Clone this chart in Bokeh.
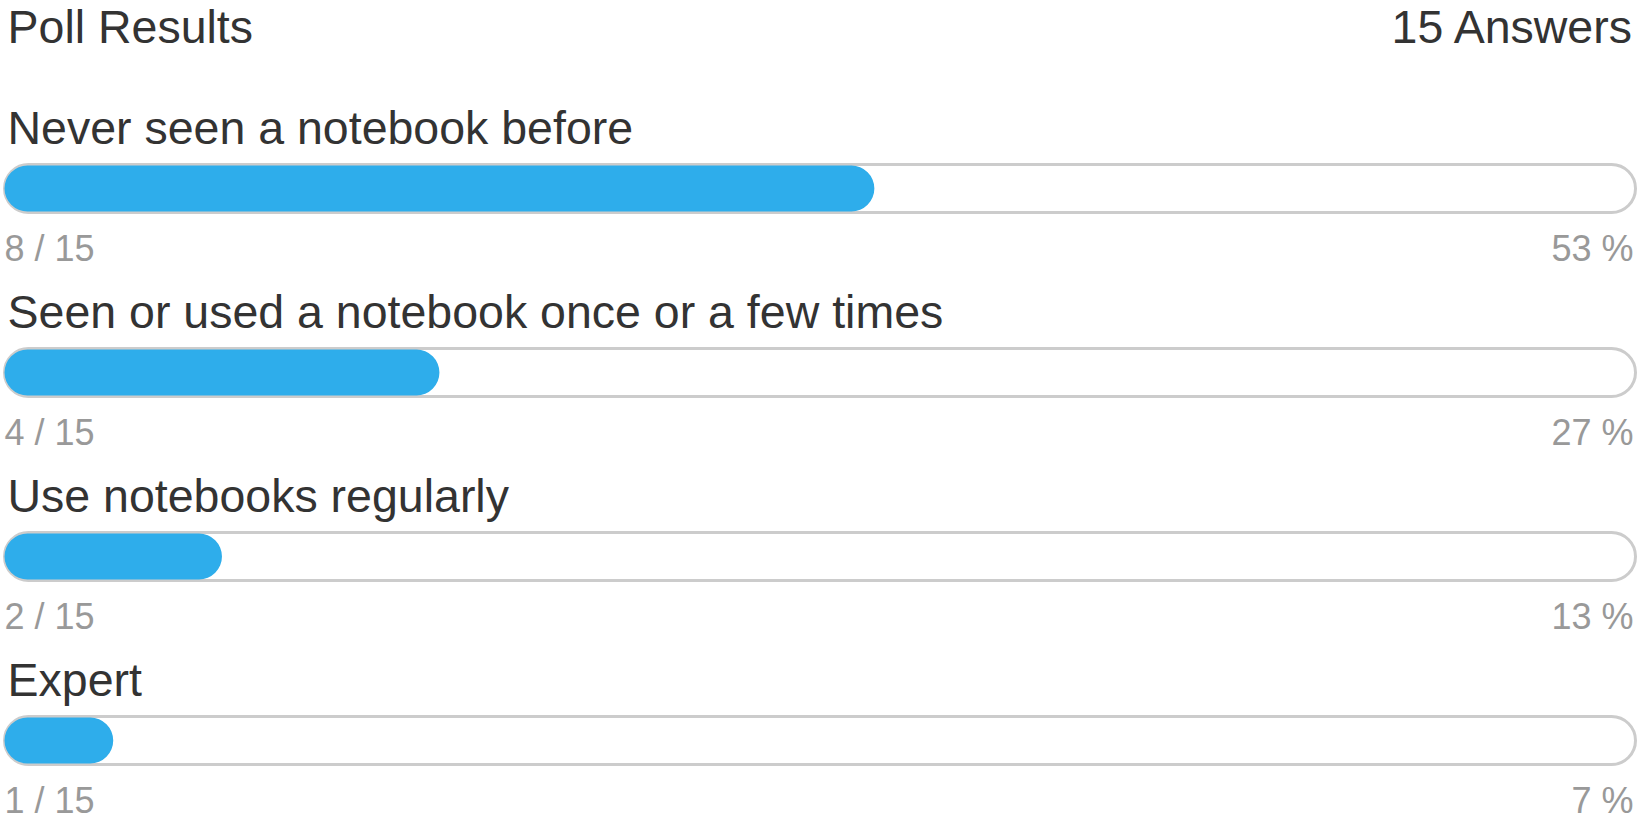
from bokeh.plotting import figure
from bokeh.models import Range1d, ColumnDataSource
from bokeh.core.properties import value
from bokeh.embed import file_html
from bokeh.resources import INLINE

# ---- data ----
title_text = "Poll Results"
answers = [
    "Never seen a notebook before",
    "Seen or used a notebook once or a few times",
    "Use notebooks regularly",
    "Expert",
]
counts = [8, 4, 2, 1]
total = 15

# ---- layout (pixels) ----
W, H = 1639, 822
track_left_px, track_right_px = 4, 1635
px_per_unit = (track_right_px - track_left_px) / total
row_pitch = 184
first_track_center = 188

p = figure(width=W, height=H, output_backend="svg", toolbar_location=None,
           x_range=Range1d(-track_left_px / px_per_unit, (W - track_left_px) / px_per_unit),
           y_range=Range1d(H, 0), min_border=0)
p.axis.visible = False
p.grid.visible = False
p.outline_line_color = None
p.background_fill_color = "white"
p.border_fill_color = "white"

n = len(answers)
centers = [first_track_center + i * row_pitch for i in range(n)]
pct = [f"{round(100 * c / total)} %" for c in counts]
cnt = [f"{c} / {total}" for c in counts]

src = ColumnDataSource(dict(
    y=centers,
    right=counts,
    full=[total] * n,
    label_y=[c - 61 for c in centers],
    count_y=[c + 60 for c in centers],
    answers=answers,
    pct=pct,
    cnt=cnt,
))

# track
p.hbar(y="y", left=0, right="full", height=48, source=src,
       fill_color="white", line_color="#cccccc", line_width=3, border_radius=25)
# value bar
p.hbar(y="y", left=0, right="right", height=46, source=src,
       fill_color="#2eadeb", line_color=None, border_radius=23)

font = value("Liberation Sans")
p.text(x=0, y="label_y", text="answers", source=src, text_font=font,
       text_font_size="46.5px", text_color="#333333", text_baseline="alphabetic",
       text_align="left", x_offset=3)
p.text(x=0, y="count_y", text="cnt", source=src, text_font=font,
       text_font_size="36px", text_color="#999999", text_baseline="alphabetic",
       text_align="left", x_offset=0)
p.text(x=total, y="count_y", text="pct", source=src, text_font=font,
       text_font_size="36px", text_color="#999999", text_baseline="alphabetic",
       text_align="right", x_offset=-2)

p.text(x=[0], y=[26], text=[title_text], text_font=font, text_font_size="46.5px",
       text_color="#333333", text_baseline="alphabetic", text_align="left", x_offset=3)
p.text(x=[total], y=[26], text=[f"{total} Answers"], text_font=font, text_font_size="46.5px",
       text_color="#333333", text_baseline="alphabetic", text_align="right", x_offset=-1)

open("out.html", "w").write(file_html(p, INLINE))
